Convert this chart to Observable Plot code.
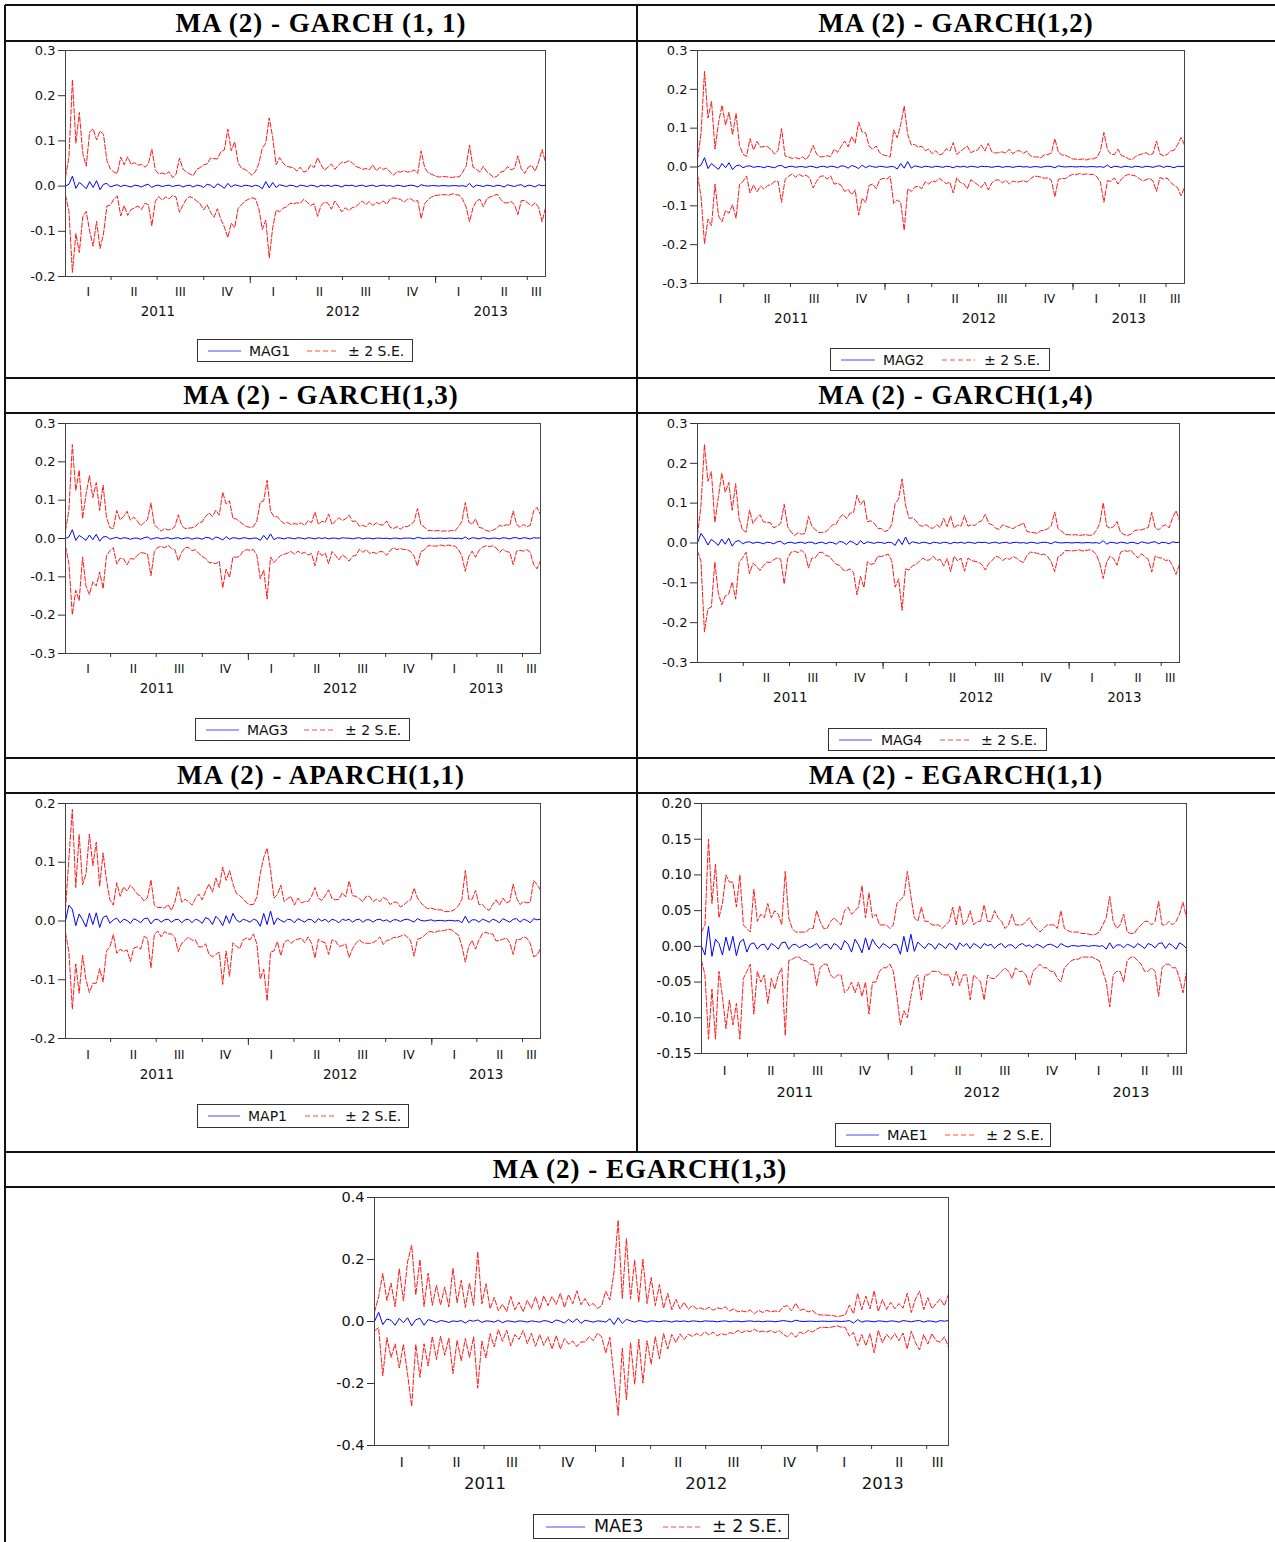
<!DOCTYPE html>
<html><head><meta charset="utf-8">
<script src="https://cdn.jsdelivr.net/npm/d3@7"></script>
<script src="https://cdn.jsdelivr.net/npm/@observablehq/plot@0.6"></script>
<style>
body{margin:0;background:#fff;}
#page{position:relative;width:1275px;height:1542px;overflow:hidden;background:#fff;font-family:"DejaVu Sans",sans-serif;}
.hl{position:absolute;background:#111;}
.title{position:absolute;display:flex;align-items:center;justify-content:center;font-family:"Liberation Serif","Times New Roman",serif;font-weight:bold;font-size:27px;letter-spacing:1px;color:#000;}
.legend{position:absolute;border:1px solid #333;box-sizing:border-box;color:#111;font-family:"DejaVu Sans",sans-serif;}
.legend span{position:absolute;top:50%;transform:translateY(-50%);white-space:nowrap;line-height:1;}
.legend svg{position:absolute;top:50%;transform:translateY(-50%);}
</style></head><body><div id="page"></div><script>
// ---------- categories / tick labels ----------
const quarterStarts = ["2011-01-01","2011-04-01","2011-07-01","2011-10-01","2012-01-01","2012-04-01","2012-07-01","2012-10-01","2013-01-01","2013-04-01","2013-07-01"];
const quarterLabels = ["I","II","III","IV","I","II","III","IV","I","II","III"];
const yearStarts = ["2011-01-01","2012-01-01","2013-01-01"];
const yearLabels = ["2011","2012","2013"];
const sampleStart = "2011-01-01";
const sampleEnd = "2013-08-06";

const yTicks1 = [-0.2,-0.1,0.0,0.1,0.2,0.3];
const yTicks3 = [-0.3,-0.2,-0.1,0.0,0.1,0.2,0.3];
const yTicks5 = [-0.2,-0.1,0.0,0.1,0.2];
const yTicks6 = [-0.15,-0.10,-0.05,0.00,0.05,0.10,0.15,0.20];
const yTicks7 = [-0.4,-0.2,0.0,0.2,0.4];

// ---------- series: 2 S.E. half-width (band = forecast ± value) ----------
const seMAG1 = [0.02,0.06,0.213,0.10,0.155,0.07,0.05,0.11,0.13,0.09,
0.13,0.11,0.05,0.04,0.03,0.025,0.065,0.045,0.065,0.05,
0.05,0.045,0.05,0.04,0.045,0.085,0.035,0.025,0.03,0.025,
0.03,0.02,0.025,0.06,0.04,0.03,0.025,0.025,0.035,0.04,
0.05,0.045,0.06,0.065,0.055,0.075,0.085,0.12,0.08,0.095,
0.05,0.04,0.035,0.03,0.025,0.03,0.05,0.09,0.085,0.155,
0.10,0.05,0.06,0.05,0.045,0.04,0.04,0.035,0.04,0.03,
0.035,0.045,0.04,0.065,0.045,0.035,0.04,0.05,0.035,0.045,
0.055,0.05,0.055,0.05,0.045,0.04,0.035,0.04,0.035,0.045,
0.035,0.04,0.035,0.04,0.03,0.025,0.03,0.03,0.035,0.03,
0.03,0.035,0.03,0.075,0.04,0.03,0.025,0.022,0.02,0.02,
0.02,0.02,0.018,0.02,0.02,0.03,0.045,0.085,0.045,0.035,
0.03,0.045,0.03,0.025,0.02,0.02,0.03,0.035,0.04,0.035,
0.04,0.065,0.035,0.03,0.04,0.045,0.035,0.05,0.08,0.05];

const seMAG2 = [0.02,0.08,0.222,0.13,0.16,0.045,0.12,0.15,0.11,0.13,
0.09,0.135,0.05,0.035,0.025,0.07,0.045,0.065,0.05,0.055,
0.05,0.045,0.035,0.04,0.095,0.03,0.025,0.02,0.025,0.02,
0.025,0.02,0.03,0.055,0.035,0.025,0.025,0.03,0.025,0.045,
0.04,0.05,0.065,0.055,0.075,0.06,0.12,0.085,0.09,0.05,
0.045,0.055,0.035,0.03,0.03,0.025,0.095,0.08,0.10,0.16,
0.07,0.06,0.055,0.05,0.055,0.04,0.045,0.035,0.04,0.03,
0.035,0.045,0.04,0.065,0.03,0.04,0.045,0.055,0.035,0.04,
0.045,0.055,0.04,0.06,0.04,0.035,0.035,0.04,0.035,0.045,
0.035,0.04,0.04,0.035,0.04,0.03,0.025,0.025,0.025,0.03,
0.03,0.035,0.075,0.035,0.03,0.03,0.025,0.02,0.02,0.018,
0.02,0.018,0.02,0.02,0.025,0.04,0.09,0.04,0.035,0.03,
0.045,0.03,0.025,0.02,0.02,0.025,0.03,0.035,0.035,0.03,
0.035,0.065,0.03,0.03,0.03,0.04,0.045,0.055,0.075,0.055];

const seMAG3 = [0.02,0.07,0.222,0.13,0.17,0.05,0.12,0.155,0.11,0.135,
0.08,0.135,0.05,0.03,0.025,0.07,0.05,0.055,0.07,0.05,
0.055,0.045,0.035,0.04,0.045,0.095,0.035,0.025,0.02,0.025,
0.02,0.025,0.03,0.06,0.035,0.025,0.025,0.03,0.03,0.04,
0.045,0.055,0.065,0.06,0.07,0.06,0.125,0.085,0.10,0.05,
0.05,0.045,0.035,0.03,0.03,0.03,0.045,0.10,0.09,0.155,
0.06,0.06,0.055,0.045,0.04,0.04,0.035,0.04,0.035,0.04,
0.035,0.045,0.04,0.07,0.035,0.045,0.04,0.065,0.035,0.045,
0.055,0.045,0.05,0.06,0.045,0.045,0.03,0.035,0.03,0.04,
0.035,0.04,0.035,0.035,0.045,0.03,0.025,0.03,0.025,0.03,
0.03,0.035,0.045,0.075,0.035,0.03,0.02,0.02,0.02,0.02,
0.018,0.02,0.018,0.02,0.02,0.03,0.045,0.09,0.045,0.035,
0.05,0.03,0.025,0.02,0.02,0.02,0.025,0.035,0.03,0.035,
0.035,0.07,0.035,0.03,0.035,0.03,0.035,0.07,0.08,0.06];

const seMAG4 = [0.02,0.07,0.235,0.16,0.17,0.05,0.12,0.165,0.13,0.14,
0.09,0.145,0.055,0.035,0.025,0.08,0.05,0.06,0.07,0.055,
0.05,0.05,0.04,0.04,0.045,0.10,0.04,0.025,0.02,0.025,
0.02,0.025,0.065,0.04,0.035,0.025,0.025,0.03,0.035,0.045,
0.05,0.06,0.07,0.065,0.07,0.075,0.125,0.09,0.11,0.05,
0.055,0.05,0.035,0.035,0.03,0.03,0.045,0.105,0.10,0.165,
0.08,0.065,0.06,0.055,0.045,0.04,0.045,0.04,0.035,0.045,
0.04,0.06,0.04,0.07,0.035,0.045,0.04,0.07,0.04,0.045,
0.045,0.05,0.055,0.07,0.05,0.045,0.035,0.035,0.045,0.04,
0.04,0.035,0.04,0.045,0.05,0.03,0.025,0.025,0.025,0.03,
0.03,0.035,0.045,0.075,0.035,0.03,0.02,0.02,0.02,0.02,
0.018,0.02,0.02,0.018,0.02,0.03,0.05,0.095,0.045,0.035,
0.04,0.055,0.025,0.02,0.02,0.02,0.03,0.035,0.03,0.035,
0.04,0.075,0.035,0.035,0.04,0.045,0.04,0.06,0.08,0.055];

const seMAP1 = [0.02,0.08,0.17,0.065,0.135,0.06,0.09,0.135,0.10,0.12,
0.07,0.11,0.06,0.04,0.025,0.06,0.045,0.055,0.05,0.065,
0.05,0.045,0.045,0.03,0.035,0.075,0.025,0.02,0.025,0.02,
0.025,0.02,0.03,0.055,0.035,0.035,0.03,0.03,0.035,0.045,
0.04,0.045,0.06,0.055,0.065,0.055,0.10,0.06,0.09,0.05,
0.045,0.045,0.035,0.03,0.03,0.025,0.04,0.09,0.095,0.13,
0.07,0.045,0.04,0.06,0.035,0.035,0.04,0.03,0.035,0.03,
0.035,0.03,0.04,0.06,0.035,0.035,0.04,0.055,0.035,0.035,
0.04,0.045,0.04,0.065,0.045,0.04,0.035,0.035,0.04,0.04,
0.035,0.035,0.03,0.04,0.035,0.03,0.03,0.03,0.025,0.025,
0.03,0.035,0.058,0.035,0.03,0.025,0.02,0.02,0.02,0.018,
0.018,0.016,0.015,0.016,0.02,0.025,0.04,0.078,0.04,0.035,
0.05,0.03,0.025,0.02,0.02,0.025,0.035,0.03,0.035,0.03,
0.035,0.06,0.035,0.03,0.03,0.03,0.035,0.065,0.06,0.05];

// EGARCH(1,1): upper and lower band levels read separately
const bandMAE1up = [0.02,0.03,0.15,0.06,0.115,0.04,0.06,0.10,0.09,0.09,
0.055,0.10,0.03,0.025,0.02,0.08,0.035,0.045,0.04,0.06,
0.04,0.05,0.045,0.03,0.105,0.04,0.025,0.02,0.02,0.02,
0.02,0.025,0.025,0.05,0.035,0.025,0.025,0.035,0.04,0.035,
0.03,0.05,0.055,0.045,0.05,0.055,0.085,0.04,0.075,0.04,
0.045,0.03,0.03,0.03,0.025,0.03,0.06,0.065,0.07,0.105,
0.07,0.04,0.035,0.055,0.035,0.035,0.03,0.03,0.03,0.025,
0.03,0.035,0.055,0.03,0.057,0.03,0.035,0.05,0.03,0.035,
0.035,0.058,0.035,0.035,0.05,0.04,0.035,0.025,0.03,0.045,
0.03,0.03,0.03,0.035,0.04,0.03,0.025,0.02,0.025,0.03,
0.03,0.03,0.025,0.05,0.025,0.022,0.02,0.02,0.02,0.018,
0.018,0.017,0.016,0.017,0.02,0.03,0.04,0.07,0.035,0.025,
0.03,0.045,0.02,0.018,0.018,0.025,0.03,0.035,0.035,0.03,
0.035,0.063,0.03,0.03,0.035,0.03,0.035,0.045,0.062,0.04];

const bandMAE1lo = [-0.02,-0.04,-0.13,-0.06,-0.13,-0.035,-0.07,-0.115,-0.075,-0.11,
-0.08,-0.13,-0.045,-0.035,-0.025,-0.095,-0.035,-0.05,-0.04,-0.08,
-0.045,-0.06,-0.04,-0.03,-0.125,-0.02,-0.018,-0.015,-0.015,-0.02,
-0.02,-0.025,-0.025,-0.055,-0.03,-0.025,-0.025,-0.04,-0.045,-0.04,
-0.04,-0.065,-0.06,-0.05,-0.065,-0.05,-0.07,-0.05,-0.095,-0.05,
-0.05,-0.035,-0.03,-0.03,-0.025,-0.035,-0.07,-0.11,-0.09,-0.10,
-0.07,-0.045,-0.04,-0.075,-0.04,-0.04,-0.035,-0.035,-0.035,-0.04,
-0.04,-0.04,-0.055,-0.035,-0.055,-0.04,-0.04,-0.075,-0.04,-0.045,
-0.05,-0.075,-0.04,-0.045,-0.045,-0.04,-0.035,-0.03,-0.035,-0.045,
-0.03,-0.035,-0.035,-0.04,-0.055,-0.035,-0.03,-0.025,-0.03,-0.03,
-0.035,-0.035,-0.045,-0.05,-0.03,-0.025,-0.02,-0.018,-0.018,-0.015,
-0.015,-0.015,-0.015,-0.018,-0.02,-0.035,-0.05,-0.085,-0.04,-0.035,
-0.035,-0.05,-0.02,-0.015,-0.015,-0.02,-0.025,-0.035,-0.035,-0.03,
-0.035,-0.07,-0.03,-0.025,-0.025,-0.03,-0.03,-0.045,-0.065,-0.035];

const seMAE3 = [0.03,0.05,0.165,0.06,0.12,0.06,0.16,0.07,0.18,0.26,
0.08,0.19,0.06,0.15,0.05,0.12,0.05,0.11,0.05,0.17,
0.06,0.13,0.05,0.12,0.05,0.22,0.06,0.12,0.04,0.08,
0.03,0.06,0.03,0.08,0.04,0.06,0.03,0.07,0.04,0.08,
0.04,0.08,0.05,0.085,0.05,0.09,0.05,0.08,0.06,0.09,
0.06,0.07,0.05,0.06,0.04,0.05,0.10,0.06,0.17,0.315,
0.08,0.26,0.07,0.20,0.06,0.20,0.06,0.14,0.05,0.12,
0.04,0.09,0.04,0.07,0.04,0.06,0.04,0.05,0.04,0.045,
0.035,0.045,0.035,0.045,0.04,0.045,0.035,0.04,0.03,0.035,
0.03,0.035,0.025,0.035,0.03,0.035,0.03,0.035,0.03,0.045,
0.05,0.035,0.055,0.035,0.04,0.03,0.035,0.025,0.02,0.02,
0.02,0.018,0.015,0.018,0.02,0.05,0.03,0.085,0.04,0.08,
0.04,0.10,0.03,0.07,0.04,0.06,0.04,0.06,0.04,0.09,
0.03,0.07,0.095,0.04,0.075,0.04,0.06,0.07,0.05,0.085];

// ---------- series: forecasts (blue) ----------
const fcMAG1 = [0.000,0.004,0.022,-0.005,0.008,0.002,-0.006,0.010,-0.003,0.012,
-0.008,0.004,0.006,-0.002,0.001,0.003,-0.001,0.002,0.000,-0.002,
0.002,0.001,-0.002,0.002,0.004,-0.003,0.001,0.002,-0.001,0.001,
0.002,-0.001,0.001,0.002,-0.002,0.001,0.002,-0.002,0.002,0.001,
-0.003,0.004,0.002,-0.004,0.005,0.001,-0.005,0.006,-0.002,0.003,
0.001,-0.001,0.002,0.001,-0.001,0.002,0.000,-0.006,0.010,-0.004,
0.008,-0.003,0.003,0.001,-0.001,0.002,0.001,-0.002,0.002,0.001,
-0.001,0.002,0.001,-0.002,0.002,0.000,0.002,-0.001,0.002,0.001,
-0.002,0.002,0.001,0.002,-0.001,0.001,0.002,-0.001,0.001,0.002,
-0.001,0.001,0.002,0.000,0.001,-0.001,0.002,0.001,-0.001,0.001,
0.002,0.001,-0.002,0.003,0.001,0.000,0.001,0.001,0.000,0.001,
0.001,0.000,0.001,0.001,0.000,0.001,-0.001,0.006,-0.003,0.002,
0.001,-0.001,0.002,0.001,-0.001,0.002,0.001,-0.002,0.003,0.001,
-0.001,0.002,0.003,-0.002,0.002,0.001,-0.002,0.003,0.001,0.002];

const fcMAG2 = [0.000,0.005,0.024,-0.004,0.009,0.001,-0.006,0.009,-0.002,0.011,
-0.007,0.003,0.005,-0.002,0.002,0.003,-0.001,0.001,0.001,-0.002,
0.002,0.000,-0.002,0.003,0.004,-0.002,0.001,0.002,-0.001,0.001,
0.001,-0.001,0.002,0.001,-0.002,0.001,0.002,-0.001,0.002,0.001,
-0.002,0.003,0.002,-0.003,0.004,0.001,-0.004,0.005,-0.002,0.003,
0.001,-0.001,0.002,0.001,-0.001,0.001,0.001,-0.005,0.009,-0.003,
0.014,-0.003,0.003,0.001,-0.001,0.002,0.001,-0.001,0.002,0.001,
-0.001,0.002,0.001,-0.002,0.002,0.000,0.002,-0.001,0.002,0.001,
-0.001,0.002,0.001,0.001,-0.001,0.001,0.002,-0.001,0.001,0.001,
-0.001,0.001,0.002,0.000,0.001,-0.001,0.001,0.001,-0.001,0.001,
0.002,0.001,-0.002,0.003,0.001,0.000,0.001,0.001,0.000,0.001,
0.001,0.000,0.001,0.001,0.000,0.001,-0.001,0.005,-0.002,0.002,
0.001,-0.001,0.002,0.001,-0.001,0.002,0.001,-0.001,0.002,0.001,
-0.001,0.002,0.003,-0.001,0.002,0.001,-0.002,0.002,0.001,0.002];

const fcMAG3 = [0.000,0.004,0.023,-0.005,0.008,0.002,-0.005,0.009,-0.003,0.011,
-0.007,0.004,0.005,-0.002,0.001,0.003,-0.001,0.002,0.001,-0.002,
0.001,0.001,-0.002,0.002,0.004,-0.002,0.001,0.002,-0.001,0.001,
0.002,-0.001,0.001,0.002,-0.001,0.001,0.002,-0.002,0.001,0.001,
-0.002,0.003,0.002,-0.003,0.004,0.001,-0.004,0.005,-0.002,0.002,
0.001,-0.001,0.002,0.001,-0.001,0.001,0.001,-0.005,0.008,-0.003,
0.012,-0.003,0.002,0.001,-0.001,0.002,0.001,-0.001,0.002,0.001,
-0.001,0.002,0.001,-0.001,0.002,0.000,0.002,-0.001,0.001,0.001,
-0.001,0.002,0.001,0.001,-0.001,0.001,0.002,-0.001,0.001,0.001,
-0.001,0.001,0.001,0.000,0.001,-0.001,0.001,0.001,-0.001,0.001,
0.001,0.001,-0.001,0.003,0.001,0.000,0.001,0.001,0.000,0.001,
0.001,0.000,0.001,0.001,0.000,0.001,-0.001,0.004,-0.002,0.002,
0.001,-0.001,0.002,0.001,-0.001,0.001,0.001,-0.001,0.002,0.001,
-0.001,0.002,0.002,-0.001,0.002,0.001,-0.001,0.002,0.001,0.002];

const fcMAG4 = [0.000,0.024,0.012,-0.005,0.009,0.002,-0.006,0.010,-0.003,0.012,
-0.008,0.004,0.006,-0.002,0.002,0.003,-0.001,0.002,0.001,-0.002,
0.002,0.001,-0.002,0.003,0.004,-0.003,0.001,0.002,-0.001,0.001,
0.002,-0.001,0.002,0.002,-0.002,0.001,0.002,-0.002,0.002,0.001,
-0.003,0.004,0.002,-0.004,0.005,0.001,-0.005,0.006,-0.002,0.003,
0.001,-0.001,0.002,0.001,-0.001,0.002,0.001,-0.006,0.010,-0.004,
0.015,-0.003,0.003,0.001,-0.001,0.002,0.001,-0.002,0.002,0.001,
-0.001,0.002,0.001,-0.002,0.002,0.000,0.002,-0.001,0.002,0.001,
-0.001,0.002,0.001,0.002,-0.001,0.001,0.002,-0.001,0.001,0.002,
-0.001,0.001,0.002,0.000,0.001,-0.001,0.002,0.001,-0.001,0.001,
0.002,0.001,-0.002,0.003,0.001,0.000,0.001,0.001,0.000,0.001,
0.001,0.000,0.001,0.001,0.000,0.001,-0.001,0.006,-0.003,0.002,
0.001,-0.001,0.002,0.001,-0.001,0.002,0.001,-0.002,0.003,0.001,
-0.001,0.002,0.003,-0.002,0.002,0.001,-0.002,0.003,0.001,0.002];

const fcMAP1 = [0.000,0.027,0.020,-0.008,0.012,0.002,-0.010,0.013,-0.006,0.014,
-0.011,0.006,0.009,-0.004,0.002,0.005,-0.003,0.003,0.001,-0.004,
0.004,0.001,-0.003,0.004,0.005,-0.005,0.002,0.003,-0.002,0.002,
0.003,-0.002,0.002,0.003,-0.003,0.002,0.003,-0.003,0.003,0.001,
-0.004,0.006,0.003,-0.006,0.008,0.002,-0.008,0.009,-0.004,0.013,
0.002,-0.002,0.003,0.001,-0.002,0.003,0.001,-0.009,0.013,-0.006,
0.017,-0.006,0.005,0.001,-0.002,0.003,0.002,-0.003,0.004,0.001,
-0.002,0.003,0.002,-0.003,0.004,0.000,0.003,-0.002,0.003,0.001,
-0.003,0.003,0.001,0.003,-0.002,0.002,0.003,-0.002,0.002,0.002,
-0.002,0.002,0.003,0.000,0.002,-0.002,0.002,0.002,-0.001,0.002,
0.003,0.001,-0.002,0.004,0.001,0.000,0.001,0.002,0.000,0.001,
0.001,0.000,0.001,0.001,0.000,0.001,-0.003,0.008,-0.003,0.002,
0.002,-0.002,0.003,0.001,-0.002,0.003,0.001,-0.003,0.004,0.001,
-0.002,0.003,0.004,-0.002,0.003,0.001,-0.003,0.004,0.002,0.003];

const fcMAE1 = [0.000,-0.012,0.028,-0.014,0.010,0.004,-0.012,0.013,-0.006,0.014,
-0.013,0.006,0.010,-0.008,0.003,0.005,-0.004,0.002,0.003,-0.005,
0.004,0.001,-0.004,0.005,0.006,-0.004,0.002,0.003,-0.002,0.001,
0.003,-0.002,0.001,0.004,-0.003,0.002,0.003,-0.004,0.004,0.001,
-0.005,0.008,0.003,-0.008,0.010,0.002,-0.009,0.012,-0.005,0.010,
0.002,-0.003,0.004,0.001,-0.003,0.003,0.002,-0.011,0.014,-0.008,
0.017,-0.007,0.006,0.001,-0.003,0.004,0.002,-0.004,0.004,0.001,
-0.003,0.004,0.002,-0.005,0.005,0.000,0.004,-0.003,0.004,0.001,
-0.003,0.004,0.001,0.003,-0.003,0.002,0.004,-0.002,0.002,0.002,
-0.003,0.002,0.004,0.000,0.002,-0.002,0.003,0.001,-0.002,0.002,
0.003,0.001,-0.002,0.004,0.001,-0.001,0.001,0.001,0.000,0.001,
0.001,0.000,0.001,0.001,0.000,0.001,-0.004,0.005,-0.003,0.002,
0.002,-0.002,0.003,0.001,-0.002,0.004,0.001,-0.003,0.004,0.002,
-0.002,0.004,0.005,-0.003,0.004,0.001,-0.004,0.005,0.002,-0.003];

const fcMAE3 = [0.000,0.030,-0.010,0.008,0.004,-0.012,0.010,-0.004,0.012,-0.014,
0.006,0.010,-0.012,0.006,0.002,-0.003,0.003,0.001,-0.003,0.002,
0.000,0.003,-0.005,0.004,0.001,0.005,-0.003,0.002,0.001,-0.002,
0.004,-0.004,0.002,0.001,-0.002,0.002,0.001,-0.002,0.002,0.000,
-0.002,0.003,0.001,-0.004,0.005,0.001,-0.005,0.007,-0.003,0.009,
-0.006,0.004,0.001,-0.002,0.002,0.001,-0.002,0.009,-0.010,0.012,
-0.006,0.007,0.002,-0.002,0.003,0.001,-0.002,0.002,0.001,-0.001,
0.002,0.001,-0.002,0.002,0.000,0.002,-0.001,0.002,0.001,-0.001,
0.002,0.001,0.001,-0.001,0.001,0.002,-0.001,0.001,0.001,-0.001,
0.001,0.002,0.000,0.001,-0.001,0.001,0.001,-0.001,0.001,0.003,
0.001,-0.001,0.004,0.001,0.000,0.001,0.001,0.000,0.001,0.001,
0.000,0.001,0.001,0.000,0.001,0.003,-0.005,0.006,-0.002,0.002,
0.001,-0.001,0.002,0.001,-0.001,0.002,0.001,-0.002,0.003,0.001,
-0.001,0.002,0.003,-0.002,0.002,0.001,-0.002,0.003,0.001,0.003];

// ---------- layout (positions only) ----------
const panels = [
 {title:"MA (2) - GARCH (1, 1)", cell:[5,637,5,41], frame:[65,50,545,276], dom:[-0.2,0.3], ticks:yTicks1, dig:1, se:seMAG1, fc:fcMAG1, name:"MAG1", leg:[197,339,413,362], q:15, yr:34.5, fs:[13,12,13.5], lf:14},
 {title:"MA (2) - GARCH(1,2)", cell:[637,1275,5,41], frame:[697,50,1184,283], dom:[-0.3,0.3], ticks:yTicks3, dig:1, se:seMAG2, fc:fcMAG2, name:"MAG2", leg:[830,348,1050,371], q:15, yr:35, fs:[13,12,13.5], lf:14},
 {title:"MA (2) - GARCH(1,3)", cell:[5,637,378,413], frame:[65,423,540,653], dom:[-0.3,0.3], ticks:yTicks3, dig:1, se:seMAG3, fc:fcMAG3, name:"MAG3", leg:[195,718,410,741], q:15, yr:35, fs:[13,12,13.5], lf:14},
 {title:"MA (2) - GARCH(1,4)", cell:[637,1275,378,413], frame:[697,423,1179,662], dom:[-0.3,0.3], ticks:yTicks3, dig:1, se:seMAG4, fc:fcMAG4, name:"MAG4", leg:[828,728,1047,751], q:15, yr:35, fs:[13,12,13.5], lf:14},
 {title:"MA (2) - APARCH(1,1)", cell:[5,637,758,793], frame:[65,803,540,1038], dom:[-0.2,0.2], ticks:yTicks5, dig:1, se:seMAP1, fc:fcMAP1, name:"MAP1", leg:[197,1104,409,1128], q:16, yr:36, fs:[13,12,13.5], lf:14},
 {title:"MA (2) - EGARCH(1,1)", cell:[637,1275,758,793], frame:[701,803,1186,1053], dom:[-0.15,0.2], ticks:yTicks6, dig:2, up:bandMAE1up, lo:bandMAE1lo, fc:fcMAE1, name:"MAE1", leg:[835,1123,1051,1147], q:17, yr:38, fs:[13.5,12.5,14.5], lf:14.5},
 {title:"MA (2) - EGARCH(1,3)", cell:[5,1275,1152,1187], frame:[374,1197,948,1445], dom:[-0.4,0.4], ticks:yTicks7, dig:1, se:seMAE3, fc:fcMAE3, name:"MAE3", leg:[533,1514,789,1539], q:16.5, yr:38, fs:[14.5,13.5,16.5], lf:17.5}
];

const page = document.getElementById("page");
function hline(x0,x1,y){const d=document.createElement("div");d.className="hl";Object.assign(d.style,{left:x0+"px",top:(y-0.75)+"px",width:(x1-x0)+"px",height:"1.5px"});page.appendChild(d);}
function vline(x,y0,y1){const d=document.createElement("div");d.className="hl";Object.assign(d.style,{left:(x-0.75)+"px",top:y0+"px",width:"1.5px",height:(y1-y0)+"px"});page.appendChild(d);}
[5,41,378,413,758,793,1152,1187].forEach(y=>hline(5,1275,y));
vline(5,5,1542); vline(637,5,1152);

const t0 = new Date(sampleStart+"T00:00:00Z"), t1 = new Date(sampleEnd+"T00:00:00Z");
const qDates = quarterStarts.map(s=>new Date(s+"T00:00:00Z"));
const yDates = yearStarts.map(s=>new Date(s+"T00:00:00Z"));
const mid = (a,b)=>new Date((+a + +b)/2);
const qMid = qDates.map((d,i)=>mid(d, i<qDates.length-1? qDates[i+1] : t1));
const yMid = yDates.map((d,i)=>mid(d, i<yDates.length-1? yDates[i+1] : t1));
const qLab = new Map(qMid.map((d,i)=>[+d, quarterLabels[i]]));
const yLab = new Map(yMid.map((d,i)=>[+d, yearLabels[i]]));
const idxDate = (i,n)=>new Date(+t0 + i*(+t1 - +t0)/(n-1));

panels.forEach(p=>{
  const tt=document.createElement("div");tt.className="title";
  Object.assign(tt.style,{left:p.cell[0]+"px",width:(p.cell[1]-p.cell[0])+"px",top:p.cell[2]+"px",height:(p.cell[3]-p.cell[2])+"px"});
  tt.textContent=p.title;page.appendChild(tt);

  const [l,t,r,b]=p.frame;
  const mL=70,mR=10,mT=12,mB=60;
  const n = p.fc.length;
  const rows = p.fc.map((f,i)=>({
    date:idxDate(i,n), f,
    up: p.up ? p.up[i] : f + p.se[i],
    lo: p.lo ? p.lo[i] : f - p.se[i]
  }));
  const [fy,fq,fyr]=p.fs;
  const chart = Plot.plot({
    width: r-l+mL+mR, height: b-t+mT+mB,
    marginLeft:mL, marginRight:mR, marginTop:mT, marginBottom:mB,
    x:{type:"utc", domain:[t0,t1]},
    y:{domain:p.dom},
    style:{fontFamily:"'DejaVu Sans', sans-serif", background:"transparent", color:"#111", overflow:"visible"},
    marks:[
      Plot.line(rows,{x:"date",y:"up",stroke:"#ff1a1a",strokeWidth:1,strokeDasharray:"5,2"}),
      Plot.line(rows,{x:"date",y:"lo",stroke:"#ff1a1a",strokeWidth:1,strokeDasharray:"5,2"}),
      Plot.line(rows,{x:"date",y:"f",stroke:"#0000ff",strokeWidth:1}),
      Plot.frame({stroke:"#444",strokeWidth:1}),
      Plot.axisY({ticks:p.ticks, tickSize:7, tickPadding:3, tickFormat:d=>d.toFixed(p.dig), fontSize:fy, stroke:"#333"}),
      Plot.axisX({ticks:qDates.slice(1), tickSize:4, tickFormat:()=>"", stroke:"#333"}),
      Plot.axisX({ticks:yDates.slice(1), tickSize:7, tickFormat:()=>"", stroke:"#333"}),
      Plot.axisX({ticks:qMid, tickSize:0, tickPadding:p.q-0.36*fq, tickFormat:d=>qLab.get(+d), fontSize:fq}),
      Plot.axisX({ticks:yMid, tickSize:0, tickPadding:p.yr-0.36*fyr, tickFormat:d=>yLab.get(+d), fontSize:fyr})
    ]
  });
  chart.style.position="absolute";
  chart.style.left=(l-mL)+"px"; chart.style.top=(t-mT)+"px";
  page.appendChild(chart);

  // legend
  const [gl,gt,gr,gb]=p.leg;
  const w=gr-gl, h=gb-gt, sc=w/216;
  const lg=document.createElement("div");lg.className="legend";
  Object.assign(lg.style,{left:gl+"px",top:gt+"px",width:w+"px",height:h+"px",fontSize:p.lf+"px"});
  const bx=Math.round(10*sc), bw=Math.round(33*sc), tx1=Math.round(51*sc), rx=Math.round(109*sc), rw=Math.round(32*sc), tx2=Math.round(150*sc);
  lg.innerHTML=`<svg width="${bw}" height="4" style="left:${bx}px"><line x1="0" y1="2" x2="${bw}" y2="2" stroke="#4a4aff" stroke-width="1"/></svg>`+
   `<span style="left:${tx1}px">${p.name}</span>`+
   `<svg width="${rw}" height="4" style="left:${rx}px"><line x1="0" y1="2" x2="${rw}" y2="2" stroke="#ff4a4a" stroke-width="1" stroke-dasharray="5,3"/></svg>`+
   `<span style="left:${tx2}px">± 2 S.E.</span>`;
  page.appendChild(lg);
});
</script></body></html>
